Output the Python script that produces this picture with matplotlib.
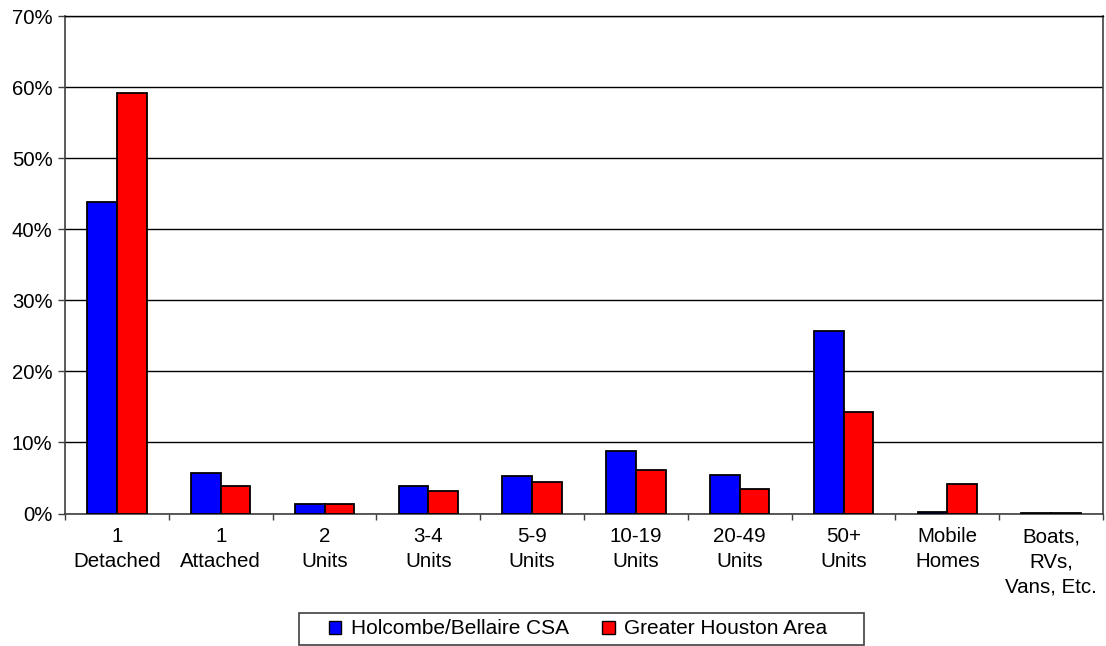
import matplotlib
matplotlib.use("Agg")
import matplotlib.pyplot as plt
from matplotlib.ticker import FixedLocator, PercentFormatter
from matplotlib.patches import Patch, Rectangle
import numpy as np

categories = ["1\nDetached", "1\nAttached", "2\nUnits", "3-4\nUnits", "5-9\nUnits",
              "10-19\nUnits", "20-49\nUnits", "50+\nUnits", "Mobile\nHomes",
              "Boats,\nRVs,\nVans, Etc."]
holcombe = [43.8, 5.7, 1.4, 3.8, 5.25, 8.85, 5.4, 25.7, 0.15, 0.1]
houston = [59.1, 3.8, 1.35, 3.1, 4.5, 6.1, 3.4, 14.3, 4.2, 0.1]
series_names = ["Holcombe/Bellaire CSA", "Greater Houston Area"]
series_colors = ["#0000FF", "#FF0000"]
yticks = [0, 10, 20, 30, 40, 50, 60, 70]

plt.rcParams['font.family'] = ['Liberation Sans', 'DejaVu Sans']

W, H = 1106, 646
fig = plt.figure(figsize=(W / 100, H / 100), dpi=100)
ax = fig.add_axes([65 / W, 1 - 513.5 / H, (1103 - 65) / W, (513.5 - 16) / H])

x = np.arange(len(categories))
w = 1 / 3.5
ax.bar(x - w / 2, holcombe, width=w, color=series_colors[0], edgecolor="black", linewidth=1.3, zorder=3)
ax.bar(x + w / 2, houston, width=w, color=series_colors[1], edgecolor="black", linewidth=1.3, zorder=3)

ax.set_xlim(-0.5, len(categories) - 0.5)
ax.set_ylim(0, 70)
ax.set_yticks(yticks)
ax.yaxis.set_major_formatter(PercentFormatter(decimals=0))
ax.grid(axis="y", color="black", linewidth=1.0, zorder=0)

ax.set_xticks(x)
ax.set_xticklabels(categories, fontsize=14.8, linespacing=1.4)
ax.xaxis.set_minor_locator(FixedLocator(np.arange(-0.5, len(categories), 1.0)))
ax.tick_params(axis="x", which="major", length=0, pad=10)
ax.tick_params(axis="x", which="minor", length=4, width=1, color="#404040", direction="out")
ax.tick_params(axis="y", length=5, width=1, color="#404040", labelsize=14.6, pad=4)

for side in ["left", "bottom", "right"]:
    ax.spines[side].set_color("#404040")
    ax.spines[side].set_linewidth(1.2)
ax.spines["top"].set_color("black")
ax.spines["top"].set_linewidth(1.0)

handles = [Patch(facecolor=c, edgecolor="black", linewidth=1.0) for c in series_colors]
leg = fig.legend(handles, series_names, loc="center", bbox_to_anchor=(578 / W, 1 - 629 / H),
                 ncol=2, frameon=False, fontsize=15,
                 handlelength=0.6, handleheight=0.6, handletextpad=0.45, columnspacing=1.6,
                 borderpad=0.2, borderaxespad=0)
fig.add_artist(Rectangle((299 / W, 1 - 645 / H), (864 - 299) / W, (645 - 613) / H,
                         transform=fig.transFigure, fill=False, edgecolor="#404040", linewidth=1.2))

fig.savefig("out.png", dpi=100)
